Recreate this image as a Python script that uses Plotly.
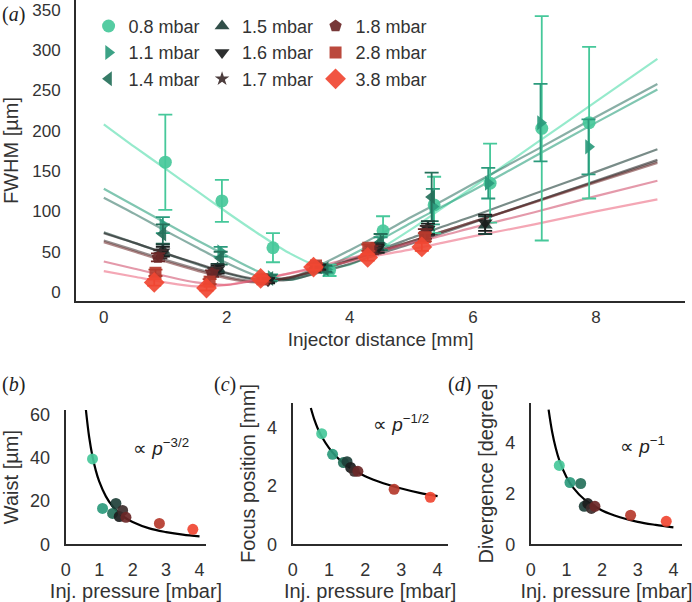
import plotly.graph_objects as go

# ---------------- panel (a) data ----------------
labels = ["0.8 mbar", "1.1 mbar", "1.4 mbar", "1.5 mbar", "1.6 mbar",
          "1.7 mbar", "1.8 mbar", "2.8 mbar", "3.8 mbar"]

x08 = [1.0, 1.92, 2.75, 3.67, 4.54, 5.37, 6.28, 7.12, 7.89]
y08 = [161, 113, 55, 27, 76, 108, 135, 203, 210]
e08 = [59, 26, 18, 7, 18, 35, 49, 139, 94]

x11 = [0.96, 1.9, 2.72, 3.62, 4.5, 5.35, 6.25, 7.1, 7.88]
y11 = [83, 50, 18, 28, 60, 106, 135, 210, 180]
e11 = [10, 6, 4, 4, 8, 22, 19, 48, 34]

x14 = [0.96, 1.9, 2.7, 3.6, 4.5, 5.33]
y14 = [72, 42, 17, 29, 62, 118]
e14 = [12, 8, 4, 4, 10, 30]

x15 = [0.96, 1.85, 2.67, 3.5, 4.45, 5.27, 6.2]
y15 = [52, 30, 15, 31, 55, 80, 83]
e15 = [7, 5, 3, 3, 6, 8, 11]

x16 = [0.96, 1.85, 2.67, 3.5, 4.45, 5.27, 6.2]
y16 = [50, 28, 14, 31, 54, 78, 86]
e16 = [6, 5, 3, 3, 5, 7, 10]

x17 = [0.92, 1.8, 2.62, 3.47, 4.4, 5.25]
y17 = [47, 26, 15, 30, 53, 76]
e17 = [5, 4, 3, 3, 5, 6]

x18 = [0.88, 1.76, 2.6, 3.45, 4.35, 5.22]
y18 = [43, 23, 15, 31, 52, 72]
e18 = [5, 4, 3, 3, 5, 6]

x28 = [0.84, 1.72, 2.58, 3.45, 4.3, 5.22]
y28 = [24, 13, 16, 33, 55, 68]
e28 = [4, 3, 3, 3, 4, 5]

x38 = [0.82, 1.67, 2.55, 3.41, 4.29, 5.17]
y38 = [12, 5, 17, 31, 43, 56]
e38 = [4, 3, 3, 3, 4, 5]

# fitted beam-profile curves
fit_x = [0, 0.5, 1, 1.5, 2, 2.5, 3, 3.5, 4, 4.5, 5, 5.5, 6, 7, 8, 9]
fit_08 = [208, 180, 153, 126, 99, 73, 49, 32, 34, 54, 78, 104, 130, 183, 236, 289]
fit_11 = [128, 107, 86, 65, 45, 26, 15, 26, 45, 65, 86, 106, 126, 168, 210, 251]
fit_14 = [117, 97, 76, 56, 36, 20, 17, 33, 52, 72, 93, 113, 134, 175, 217, 258]
fit_15 = [74, 61, 48, 35, 23, 15, 17, 28, 40, 53, 67, 81, 94, 122, 149, 177]
fit_16 = [73, 61, 48, 36, 24, 16, 15, 24, 35, 48, 60, 73, 86, 112, 138, 164]
fit_17 = [64, 52, 40, 29, 19, 13, 18, 27, 39, 51, 63, 75, 87, 112, 137, 162]
fit_18 = [62, 50, 38, 27, 17, 12, 18, 28, 39, 51, 63, 75, 87, 111, 136, 160]
fit_28 = [38, 29, 20, 12, 9, 15, 23, 32, 42, 51, 61, 70, 80, 99, 119, 138]
fit_38 = [26, 19, 12, 7, 9, 16, 23, 30, 38, 46, 53, 61, 69, 84, 100, 115]

x_ticks_a = [0, 2, 4, 6, 8]
y_ticks_a = [0, 50, 100, 150, 200, 250, 300, 350]

# ---------------- panels (b)-(d) data ----------------
pressure = [0.8, 1.1, 1.4, 1.5, 1.6, 1.7, 1.8, 2.8, 3.8]
waist = [39.4, 16.5, 14.2, 18.8, 12.8, 15.6, 12.4, 9.6, 6.9]
focus = [3.79, 3.08, 2.80, 2.83, 2.63, 2.50, 2.50, 1.88, 1.61]
divergence = [3.10, 2.43, 2.39, 1.49, 1.60, 1.41, 1.49, 1.14, 0.90]

curve_p_b = [0.6, 0.7, 0.8, 0.9, 1.0, 1.2, 1.4, 1.6, 1.8, 2.0, 2.5, 3.0, 3.5, 4.0]
curve_b = [62.4, 49.5, 40.5, 34.0, 29.0, 22.1, 17.5, 14.3, 12.0, 10.3, 7.3, 5.6, 4.4, 3.6]
curve_p_cd = [0.5, 0.6, 0.7, 0.8, 1.0, 1.2, 1.5, 2.0, 2.5, 3.0, 3.5, 4.0]
curve_c = [4.67, 4.26, 3.94, 3.69, 3.30, 3.01, 2.69, 2.33, 2.09, 1.91, 1.76, 1.65]
curve_d = [5.30, 4.42, 3.79, 3.31, 2.65, 2.21, 1.77, 1.33, 1.06, 0.88, 0.76, 0.66]

p_ticks = [0, 1, 2, 3, 4]
y_ticks_b = [0, 20, 40, 60]
y_ticks_cd = [0, 2, 4]

# ---------------- styles ----------------
FONT = "Liberation Sans, Arial, sans-serif"
TXT = "#333333"
AX = "#2b2b2b"

mcolors = ["#46c89a", "#2b9a7c", "#25705a", "#1f4039", "#1b1d1d",
           "#3d2c2c", "#6b2727", "#b5392c", "#f04632"]
lcolors = ["rgba(80,220,170,0.6)", "rgba(43,160,125,0.6)", "rgba(40,110,92,0.55)",
           "rgba(31,64,57,0.6)", "rgba(27,29,29,0.55)", "rgba(61,44,44,0.55)",
           "rgba(107,39,39,0.55)", "rgba(205,70,100,0.55)", "rgba(235,95,120,0.55)"]
symbols = ["circle", "triangle-right", "triangle-left", "triangle-up", "triangle-down",
           "star", "pentagon", "square", "diamond"]
msizes = [13, 13, 13, 13, 13, 11, 13, 12, 16]

series = [(x08, y08, e08), (x11, y11, e11), (x14, y14, e14), (x15, y15, e15),
          (x16, y16, e16), (x17, y17, e17), (x18, y18, e18), (x28, y28, e28),
          (x38, y38, e38)]
fits = [fit_08, fit_11, fit_14, fit_15, fit_16, fit_17, fit_18, fit_28, fit_38]
legend_of = ["legend", "legend", "legend", "legend2", "legend2", "legend2",
             "legend3", "legend3", "legend3"]

fig = go.Figure()

# fit lines (behind markers)
for i, fy in enumerate(fits):
    fig.add_trace(go.Scatter(
        x=fit_x, y=fy, mode="lines",
        line=dict(color=lcolors[i], width=2.2, shape="spline", smoothing=0.8),
        showlegend=False, hoverinfo="skip", xaxis="x", yaxis="y"))

for i, (xs, ys, es) in enumerate(series):
    fig.add_trace(go.Scatter(
        x=xs, y=ys, mode="markers", name=labels[i],
        marker=dict(symbol=symbols[i], size=msizes[i], color=mcolors[i], opacity=0.92,
                    line=dict(width=0)),
        error_y=dict(type="data", array=es, visible=True, color=mcolors[i],
                     thickness=1.8, width=7),
        legend=legend_of[i], legendgroup=labels[i], xaxis="x", yaxis="y"))

# bottom panels
for ax, yv, cx, cy in [("2", waist, curve_p_b, curve_b),
                       ("3", focus, curve_p_cd, curve_c),
                       ("4", divergence, curve_p_cd, curve_d)]:
    fig.add_trace(go.Scatter(x=cx, y=cy, mode="lines",
                             line=dict(color="black", width=2.2, shape="spline"),
                             showlegend=False, hoverinfo="skip",
                             xaxis="x" + ax, yaxis="y" + ax))
    fig.add_trace(go.Scatter(x=pressure, y=yv, mode="markers",
                             marker=dict(size=11, color=mcolors, opacity=0.92, line=dict(width=0)),
                             showlegend=False, xaxis="x" + ax, yaxis="y" + ax))

def axis_style(**kw):
    d = dict(showgrid=False, zeroline=False, showline=True, linecolor=AX, linewidth=2,
             ticks="", automargin=False,
             tickfont=dict(family=FONT, size=17, color=TXT),
             mirror=False)
    d.update(kw)
    return d

def ttl(text, standoff, size):
    return dict(text=text, standoff=standoff, font=dict(family=FONT, size=size, color=TXT))

BT = dict(family=FONT, size=18, color=TXT)

leg_common = dict(font=dict(family=FONT, size=18, color=TXT), bgcolor="rgba(0,0,0,0)",
                  yanchor="top", xanchor="left", tracegroupgap=0, itemwidth=30)

fig.update_layout(
    width=692, height=602,
    margin=dict(l=0, r=0, t=0, b=0, autoexpand=False),
    paper_bgcolor="white", plot_bgcolor="white",
    font=dict(family=FONT, color=TXT),
    xaxis=axis_style(domain=[0.110, 0.990], anchor="y", range=[-0.45, 9.45],
                     tickvals=x_ticks_a, title=ttl("Injector distance [mm]", 6, 19),
                     ticklabelstandoff=0),
    yaxis=axis_style(domain=[0.5, 1.0], anchor="x", range=[-11, 362],
                     tickvals=y_ticks_a, title=ttl("FWHM [µm]", 8, 20),
                     ticklabelstandoff=10),
    xaxis2=axis_style(domain=[0.095, 0.298], anchor="y2", range=[0, 4.2], tickvals=p_ticks,
                      title=ttl("Inj. pressure [mbar]", 1, 20), tickfont=BT,
                      ticklabelstandoff=8),
    yaxis2=axis_style(domain=[0.096, 0.319], anchor="x2", range=[0, 62], tickvals=y_ticks_b,
                      title=ttl("Waist [µm]", 6, 20), tickfont=BT, ticklabelstandoff=10),
    xaxis3=axis_style(domain=[0.423, 0.647], anchor="y3", range=[0, 4.28], tickvals=p_ticks,
                      title=ttl("Inj. pressure [mbar]", 1, 20), tickfont=BT,
                      ticklabelstandoff=8),
    yaxis3=axis_style(domain=[0.096, 0.331], anchor="x3", range=[0, 4.85], tickvals=y_ticks_cd,
                      title=ttl("Focus position [mm]", 6, 20), tickfont=BT, ticklabelstandoff=10),
    xaxis4=axis_style(domain=[0.767, 0.986], anchor="y4", range=[0, 4.25], tickvals=p_ticks,
                      title=ttl("Inj. pressure [mbar]", 1, 20), tickfont=BT,
                      ticklabelstandoff=8),
    yaxis4=axis_style(domain=[0.096, 0.331], anchor="x4", range=[0, 5.57], tickvals=y_ticks_cd,
                      title=ttl("Divergence [degree]", 6, 20), tickfont=BT, ticklabelstandoff=10),
    legend=dict(x=0.128, y=0.987, **leg_common),
    legend2=dict(x=0.292, y=0.987, **leg_common),
    legend3=dict(x=0.456, y=0.987, **leg_common),
)

SERIF = "Liberation Serif, DejaVu Serif, serif"
panel_labels = [("(<i>a</i>)", 0.0, 0.998), ("(<i>b</i>)", 0.0, 0.383),
                ("(<i>c</i>)", 0.306, 0.383), ("(<i>d</i>)", 0.645, 0.383)]
for txt, px, py in panel_labels:
    fig.add_annotation(text=txt, x=px, y=py, xref="paper", yref="paper",
                       xanchor="left", yanchor="top", showarrow=False,
                       font=dict(family=SERIF, size=20, color="#222"))

for ax, txt, tx, ty in [("2", "∝ <i>p</i><sup>−3/2</sup>", 2.85, 45),
                        ("3", "∝ <i>p</i><sup>−1/2</sup>", 2.98, 4.17),
                        ("4", "∝ <i>p</i><sup>−1</sup>", 3.14, 3.92)]:
    fig.add_annotation(text=txt, x=tx, y=ty, xref="x" + ax, yref="y" + ax, showarrow=False,
                       font=dict(family=FONT, size=19, color="#222"))

fig.write_html("out.html", config={"displayModeBar": False},
               post_script="document.body.style.margin='0';document.body.style.overflow='hidden';")
